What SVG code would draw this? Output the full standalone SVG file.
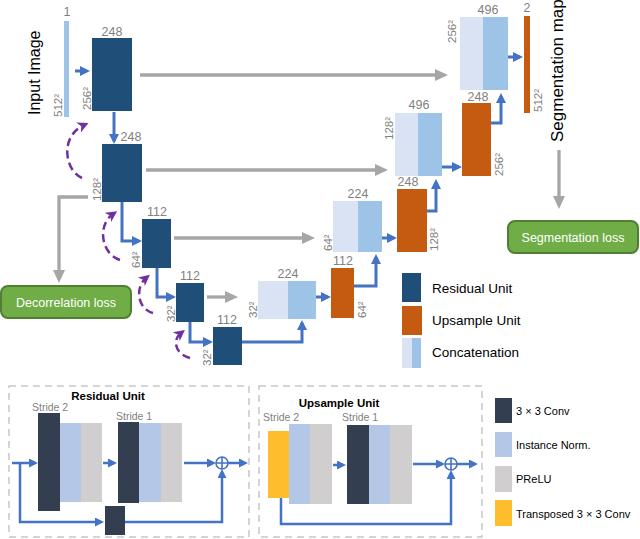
<svg xmlns="http://www.w3.org/2000/svg" width="640" height="539" viewBox="0 0 640 539">
<style>
text{font-family:"Liberation Sans","DejaVu Sans",sans-serif}
.num{font-size:12.5px;fill:#7f7f7f;text-anchor:middle}
.dim{font-size:11.5px;fill:#7f7f7f}
.res{fill:#1f4e79}
.up{fill:#c55a11}
.c1{fill:#dae3f3}
.c2{fill:#9dc3e6}
.big{font-size:16px;fill:#000}
.leg{font-size:13.5px;fill:#000}
.loss{fill:#70ad47;stroke:#507e32;stroke-width:2}
.losst{font-size:12.5px;fill:#fff;text-anchor:middle}
.blue{fill:none;stroke:#4472c4;stroke-width:3;marker-end:url(#ab)}
.blue2{fill:none;stroke:#4472c4;stroke-width:2.5;marker-end:url(#ab2)}
.gray{fill:none;stroke:#a6a6a6;stroke-width:3.3;marker-end:url(#ag)}
.purp{fill:none;stroke:#7030a0;stroke-width:2.5;stroke-dasharray:8 4.5;marker-end:url(#ap)}
.dash{fill:none;stroke:#c8c8c8;stroke-width:1.5;stroke-dasharray:7 5}
.conv{fill:#333f50}
.norm{fill:#b4c7e7}
.prelu{fill:#d0cece}
.tconv{fill:#fdbd2c}
.stride{font-size:10.5px;fill:#7f7f7f}
.ttl{font-size:11.5px;font-weight:bold;fill:#000;text-anchor:middle}
.leg2{font-size:11px;fill:#000}
</style>
<defs>
<marker id="ab" markerUnits="userSpaceOnUse" markerWidth="10" markerHeight="10" viewBox="0 0 10 10" refX="7" refY="5" orient="auto"><path d="M0,0 L10,5 L0,10 Z" fill="#4472c4"/></marker>
<marker id="ab2" markerUnits="userSpaceOnUse" markerWidth="9" markerHeight="9" viewBox="0 0 9 9" refX="6" refY="4.5" orient="auto"><path d="M0,0 L9,4.5 L0,9 Z" fill="#4472c4"/></marker>
<marker id="ag" markerUnits="userSpaceOnUse" markerWidth="13" markerHeight="12" viewBox="0 0 13 12" refX="9" refY="6" orient="auto"><path d="M0,0 L13,6 L0,12 Z" fill="#a6a6a6"/></marker>
<marker id="ap" markerUnits="userSpaceOnUse" markerWidth="11" markerHeight="11" viewBox="0 0 11 11" refX="6" refY="5.5" orient="auto"><path d="M0,0 L11,5.5 L0,11 L3,5.5 Z" fill="#7030a0"/></marker>
</defs>

<g id="connectors">
<path class="gray" d="M140,75 H444"/>
<path class="gray" d="M146,170 H384"/>
<path class="gray" d="M174,238 H311"/>
<path class="gray" d="M207,297 H234"/>
<path class="gray" d="M88,197 H59 V279"/>
<path class="gray" d="M559,150 V205"/>
<path class="blue" d="M75,71 H87"/>
<path class="blue" d="M114,112 V141"/>
<path class="blue" d="M122,202 V241 H139"/>
<path class="blue" d="M157,268 V297 H173"/>
<path class="blue" d="M190,322 V342 H210"/>
<path class="blue" d="M242,342 H302 V323"/>
<path class="blue" d="M316,297 H328"/>
<path class="blue" d="M354,286 H376 V257"/>
<path class="blue" d="M382,238 H394"/>
<path class="blue" d="M427,211 H436 V182"/>
<path class="blue" d="M442,167 H459"/>
<path class="blue" d="M491,123 H501 V96"/>
<path class="blue" d="M508,57 H520"/>
<path class="purp" d="M82,178 C64,170 60,136 84,125"/>
<path class="purp" d="M120,260 C101,254 97,225 113,214"/>
<path class="purp" d="M153,313 C137,309 135,287 146,278"/>
<path class="purp" d="M190,358 C175,354 172,340 181,333"/>
</g>

<g id="input">
<rect x="64" y="21" width="5" height="96" class="c2"/>
<text class="num" x="67" y="16">1</text>
<text class="dim" transform="translate(62,117) rotate(-90)">512²</text>
<text class="big" transform="translate(40,115) rotate(-90)">Input Image</text>
</g>
<g id="res1"><rect x="92" y="38" width="40" height="73" class="res"/><text class="num" x="112" y="36">248</text><text class="dim" transform="translate(91,110) rotate(-90)">256²</text></g>
<g id="res2"><rect x="102" y="144" width="40" height="58" class="res"/><text class="num" x="131" y="141">248</text><text class="dim" transform="translate(101,201) rotate(-90)">128²</text></g>
<g id="res3"><rect x="142" y="219" width="29" height="49" class="res"/><text class="num" x="157" y="216">112</text><text class="dim" transform="translate(140,268) rotate(-90)">64²</text></g>
<g id="res4"><rect x="176" y="283" width="28" height="39" class="res"/><text class="num" x="190" y="280">112</text><text class="dim" transform="translate(175,322) rotate(-90)">32²</text></g>
<g id="res5"><rect x="213" y="327" width="29" height="38" class="res"/><text class="num" x="227" y="324">112</text><text class="dim" transform="translate(211,366) rotate(-90)">32²</text></g>
<g id="cat32"><rect x="258" y="281" width="30" height="38" class="c1"/><rect x="288" y="281" width="28" height="38" class="c2"/><text class="num" x="288" y="278">224</text><text class="dim" transform="translate(257,318) rotate(-90)">32²</text></g>
<g id="up112"><rect x="331" y="268" width="23" height="50" class="up"/><text class="num" x="343" y="265">112</text><text class="dim" transform="translate(366,318) rotate(-90)">64²</text></g>
<g id="cat64"><rect x="333" y="201" width="25" height="51" class="c1"/><rect x="358" y="201" width="24" height="51" class="c2"/><text class="num" x="358" y="198">224</text><text class="dim" transform="translate(332,251) rotate(-90)">64²</text></g>
<g id="up248a"><rect x="397" y="189" width="30" height="63" class="up"/><text class="num" x="408" y="186">248</text><text class="dim" transform="translate(438,251) rotate(-90)">128²</text></g>
<g id="cat128"><rect x="395" y="113" width="23" height="63" class="c1"/><rect x="418" y="113" width="24" height="63" class="c2"/><text class="num" x="419" y="109">496</text><text class="dim" transform="translate(393,140) rotate(-90)">128²</text></g>
<g id="up248b"><rect x="462" y="103" width="29" height="73" class="up"/><text class="num" x="478" y="101">248</text><text class="dim" transform="translate(503,176) rotate(-90)">256²</text></g>
<g id="cat256"><rect x="460" y="17" width="23" height="73" class="c1"/><rect x="483" y="17" width="25" height="73" class="c2"/><text class="num" x="488" y="14">496</text><text class="dim" transform="translate(456,43) rotate(-90)">256²</text></g>
<g id="output"><rect x="524" y="16" width="6" height="97" class="up"/><text class="num" x="527" y="12">2</text><text class="dim" transform="translate(542,112) rotate(-90)">512²</text>
<text class="big" style="font-size:17px" transform="translate(563,142) rotate(-90)">Segmentation map</text></g>
<g id="decorr"><rect x="1" y="286" width="130" height="32" rx="7" class="loss"/><text class="losst" x="66" y="307">Decorrelation loss</text></g>
<g id="segloss"><rect x="508" y="221" width="130" height="32" rx="7" class="loss"/><text class="losst" x="573" y="242">Segmentation loss</text></g>

<g id="legend">
<rect x="402" y="273" width="19" height="29" class="res"/><text class="leg" x="432" y="293">Residual Unit</text>
<rect x="402" y="306" width="20" height="29" class="up"/><text class="leg" x="432" y="325">Upsample Unit</text>
<rect x="402" y="338" width="10" height="30" class="c1"/><rect x="412" y="338" width="9" height="30" class="c2"/><text class="leg" x="432" y="357">Concatenation</text>
</g>

<g id="residual-unit">
<rect x="9" y="386" width="240" height="151" class="dash"/>
<text class="ttl" x="108" y="400">Residual Unit</text>
<text class="stride" x="32" y="411">Stride 2</text>
<rect x="38" y="413" width="22" height="98" class="conv"/>
<rect x="60" y="423" width="21" height="79" class="norm"/>
<rect x="81" y="423" width="21" height="79" class="prelu"/>
<text class="stride" x="116" y="420">Stride 1</text>
<rect x="118" y="422" width="21" height="81" class="conv"/>
<rect x="139" y="423" width="22" height="79" class="norm"/>
<rect x="161" y="423" width="21" height="79" class="prelu"/>
<rect x="105" y="506" width="20" height="29" class="conv"/>
<path class="blue2" d="M12,463 H35"/>
<path class="blue2" d="M103,463 H114"/>
<path class="blue2" d="M184,463 H213"/>
<path class="blue2" d="M228,463 H245"/>
<path class="blue2" d="M20,463 V522 H101"/>
<path class="blue2" d="M125,522 H222 V472"/>
<circle cx="222" cy="463" r="6" fill="#fff" stroke="#4472c4" stroke-width="1.6"/>
<path d="M216,463 H228 M222,457 V469" stroke="#4472c4" stroke-width="1.6"/>
</g>

<g id="upsample-unit">
<rect x="259" y="386" width="223" height="151" class="dash"/>
<text class="ttl" x="339" y="407">Upsample Unit</text>
<text class="stride" x="263" y="421">Stride 2</text>
<text class="stride" x="342" y="421">Stride 1</text>
<rect x="268" y="431" width="21" height="67" class="tconv"/>
<rect x="289" y="424" width="21" height="80" class="norm"/>
<rect x="310" y="424" width="22" height="80" class="prelu"/>
<rect x="347" y="425" width="22" height="79" class="conv"/>
<rect x="369" y="425" width="21" height="79" class="norm"/>
<rect x="390" y="425" width="22" height="79" class="prelu"/>
<path class="blue2" d="M333,465 H343"/>
<path class="blue2" d="M413,464 H442"/>
<path class="blue2" d="M457,464 H475"/>
<path class="blue2" d="M281,498 V524 H451 V473"/>
<circle cx="451" cy="464" r="6" fill="#fff" stroke="#4472c4" stroke-width="1.6"/>
<path d="M445,464 H457 M451,458 V470" stroke="#4472c4" stroke-width="1.6"/>
</g>

<g id="legend2">
<rect x="495" y="398" width="17" height="25" class="conv"/><text class="leg2" x="516" y="415">3 × 3 Conv</text>
<rect x="495" y="432" width="17" height="25" class="norm"/><text class="leg2" x="516" y="449">Instance Norm.</text>
<rect x="495" y="466" width="17" height="26" class="prelu"/><text class="leg2" x="516" y="483">PReLU</text>
<rect x="495" y="500" width="17" height="26" class="tconv"/><text class="leg2" x="516" y="518">Transposed 3 × 3 Conv</text>
</g>
</svg>
